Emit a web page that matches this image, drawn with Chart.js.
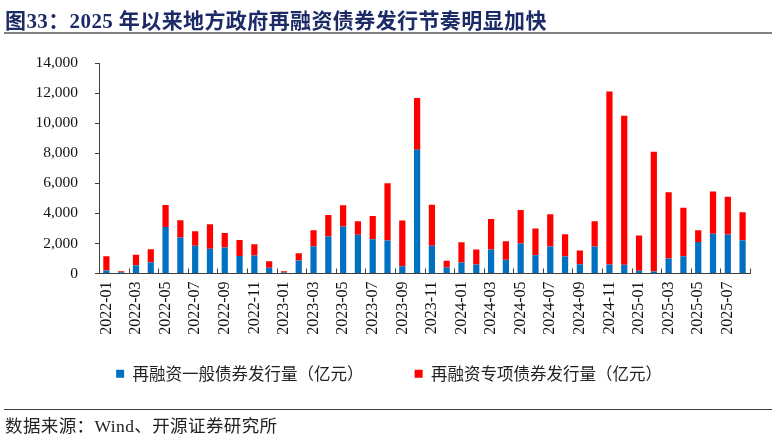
<!DOCTYPE html>
<html>
<head>
<meta charset="utf-8">
<script src="https://cdn.jsdelivr.net/npm/chart.js@4.4.1/dist/chart.umd.min.js"></script>
<style>
  html, body { margin: 0; padding: 0; background: #ffffff; }
  #wrap { position: relative; width: 774px; height: 439px; overflow: hidden; background: #fff; }
  #title { position: absolute; left: 5px; top: 4px; font: bold 21px "Liberation Serif", "Noto Sans CJK SC", serif; color: #1C2A66; white-space: nowrap; letter-spacing: 0.4px; }
  #rule1 { position: absolute; left: 4px; top: 32px; width: 768px; height: 2px; background: #808080; }
  #rule2 { position: absolute; left: 4px; top: 409px; width: 768px; height: 1px; background: #404040; }
  #source { position: absolute; left: 5px; top: 412px; font: 17.5px "Liberation Serif", "Noto Sans CJK SC", serif; color: #222; white-space: nowrap; letter-spacing: 0.4px; }
  #cv { position: absolute; left: 0; top: 0; }
</style>
</head>
<body>
<div id="wrap">
  <canvas id="cv" width="774" height="439"></canvas>
  <div id="title">图33：2025 年以来地方政府再融资债券发行节奏明显加快</div>
  <div id="rule1"></div>
  <div id="rule2"></div>
  <div id="source">数据来源：Wind、开源证券研究所</div>
</div>
<script>
const categories = [
  '2022-01','2022-02','2022-03','2022-04','2022-05','2022-06','2022-07','2022-08','2022-09','2022-10','2022-11','2022-12',
  '2023-01','2023-02','2023-03','2023-04','2023-05','2023-06','2023-07','2023-08','2023-09','2023-10','2023-11','2023-12',
  '2024-01','2024-02','2024-03','2024-04','2024-05','2024-06','2024-07','2024-08','2024-09','2024-10','2024-11','2024-12',
  '2025-01','2025-02','2025-03','2025-04','2025-05','2025-06','2025-07','2025-08'
];
const generalBonds = [
  200, 80, 550, 750, 3100, 2390, 1840, 1640, 1730, 1170, 1190, 380,
  70, 860, 1810, 2460, 3120, 2570, 2280, 2190, 490, 8230, 1840, 400,
  730, 600, 1590, 910, 1990, 1220, 1790, 1130, 620, 1790, 600, 580,
  180, 130, 1000, 1150, 2100, 2650, 2590, 2210
];
const specialBonds = [
  950, 70, 690, 870, 1460, 1150, 970, 1630, 970, 1060, 760, 440,
  80, 490, 1070, 1430, 1420, 900, 1550, 3810, 3030, 3450, 2740, 440,
  1350, 990, 2040, 1240, 2240, 1770, 2150, 1480, 910, 1680, 11500, 9910,
  2340, 7970, 4400, 3230, 780, 2810, 2520, 1860
];
const seriesNames = ['再融资一般债券发行量（亿元）', '再融资专项债券发行量（亿元）'];
const yTicks = [0, 2000, 4000, 6000, 8000, 10000, 12000, 14000];

const axisColor = '#404040';

const innerTicks = {
  id: 'innerTicks',
  afterDatasetsDraw(chart) {
    const xs = chart.scales.x;
    const ctx = chart.ctx;
    const bottom = chart.chartArea.bottom;
    const n = categories.length;
    ctx.save();
    ctx.strokeStyle = axisColor;
    ctx.lineWidth = 1;
    for (let i = 2; i <= n; i += 2) {
      let x;
      if (i < n) x = (xs.getPixelForValue(i - 1) + xs.getPixelForValue(i)) / 2;
      else x = xs.getPixelForValue(n - 1) + (xs.getPixelForValue(n - 1) - xs.getPixelForValue(n - 2)) / 2;
      x = Math.round(x) + 0.5;
      ctx.beginPath();
      ctx.moveTo(x, bottom);
      ctx.lineTo(x, bottom - 5);
      ctx.stroke();
    }
    ctx.restore();
  }
};

new Chart(document.getElementById('cv'), {
  type: 'bar',
  data: {
    labels: categories,
    datasets: [
      { label: seriesNames[0] + '\u3000\u3000\u3000', data: generalBonds, backgroundColor: '#0070C0', borderWidth: 0,
        barPercentage: 0.42, categoryPercentage: 1.0, stack: 's' },
      { label: seriesNames[1], data: specialBonds, backgroundColor: '#FF0000', borderWidth: 0,
        barPercentage: 0.42, categoryPercentage: 1.0, stack: 's' }
    ]
  },
  options: {
    responsive: false,
    animation: false,
    layout: { padding: { top: 63, right: 24, bottom: 47, left: 28 } },
    plugins: {
      title: { display: false },
      tooltip: { enabled: false },
      legend: {
        position: 'bottom',
        labels: {
          boxWidth: 8, boxHeight: 8, padding: 10,
          color: '#222',
          font: { family: '"Noto Sans CJK SC", "Liberation Serif", serif', size: 16.5 }
        }
      }
    },
    scales: {
      x: {
        stacked: true,
        grid: { display: false, drawTicks: false },
        border: { display: true, color: axisColor, width: 1 },
        afterFit(s) { s.height = 82; },
        ticks: {
          autoSkip: false, minRotation: 90, maxRotation: 90, padding: 8,
          color: '#111',
          font: { family: '"Liberation Serif", serif', size: 16 },
          callback(v, i) { return i % 2 === 0 ? categories[i] : ''; }
        }
      },
      y: {
        stacked: true,
        min: 0, max: 14000,
        afterFit(s) { s.width = 71; },
        afterBuildTicks(s) { s.ticks = yTicks.map(v => ({ value: v })); },
        grid: { drawOnChartArea: false, drawTicks: true, tickLength: 4, color: axisColor },
        border: { display: true, color: axisColor, width: 1 },
        ticks: {
          padding: 17,
          color: '#111',
          font: { family: '"Liberation Serif", serif', size: 15.5 },
          callback(v) { return v.toLocaleString('en-US'); }
        }
      }
    }
  },
  plugins: [innerTicks]
});
</script>
</body>
</html>
